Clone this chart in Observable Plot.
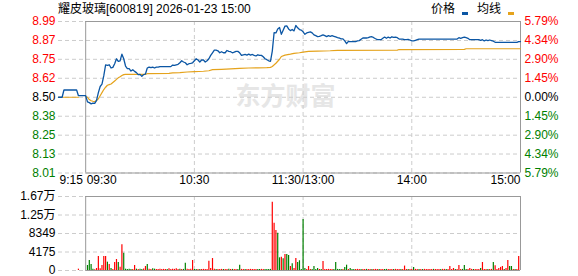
<!DOCTYPE html>
<html><head><meta charset="utf-8">
<script src="https://cdn.jsdelivr.net/npm/d3@7"></script>
<script src="https://cdn.jsdelivr.net/npm/@observablehq/plot@0.6"></script>
<style>
body{margin:0;background:#fff;}
#wrap{position:relative;width:578px;height:276px;overflow:hidden;font-family:"Liberation Sans",Arial,"Noto Sans CJK SC",sans-serif;}
#price,#vol{position:absolute;left:0;}
#price{top:0}
#vol{top:190px}
.t{position:absolute;font-size:12px;color:#000;white-space:nowrap;line-height:1;}
.dash{position:absolute;width:6px;height:3px;}
</style></head><body>
<div id="wrap">
 <div id="price"></div><div id="vol"></div>
 <div class="t" style="left:58px;top:3px">耀皮玻璃[600819] 2026-01-23 15:00</div>
 <div class="t" style="left:431px;top:3px">价格</div>
 <div class="dash" style="left:462px;top:12px;background:#0b56a4"></div>
 <div class="t" style="left:477px;top:3px">均线</div>
 <div class="dash" style="left:508px;top:12px;background:#e5a31c"></div>
</div>
<script>
// ---- data ----
const prevClose = 8.50;
const pctLevels = [5.79, 4.34, 2.90, 1.45, 0, -1.45, -2.90, -4.34, -5.79];
const priceLabels = ["8.99","8.87","8.75","8.62","8.50","8.38","8.25","8.13","8.01"];
const pctLabels = ["5.79%","4.34%","2.90%","1.45%","0.00%","1.45%","2.90%","4.34%","5.79%"];
const timeTicks = [-15, 0, 60, 120, 180, 240];
const timeLabels = ["9:15","09:30","10:30","11:30/13:00","14:00","15:00"];
const timeGrid = [60, 120, 180];

// price line (minutes from 9:30, trading time)
const priceMin = [-15,-13,-12,-5,-4,0,1,2,3,4,5,6,7,8,9,10,11,12,13,14,15,16,17,18,19,20,21,22,23,24,25,26,27,28,29,30,31,32,33,34,35,36,37,38,39,40,41,47,48,49,50,51,52,53,54,55,56,57,58,59,60,61,62,63,64,65,66,67,68,69,70,71,72,73,74,75,76,77,78,79,80,81,82,83,84,85,86,87,88,89,90,91,92,93,94,95,96,97,98,99,100,101,102,103,104,105,106,107,108,109,110,111,112,113,114,115,116,117,118,119,120,121,122,123,124,125,126,127,128,129,130,131,132,133,134,135,136,137,138,139,140,141,142,143,144,145,146,149,150,151,152,153,154,155,156,157,158,159,160,161,162,163,164,165,166,167,168,169,170,171,172,173,174,175,176,177,178,179,180,181,182,183,184,205,206,207,208,209,210,211,212,217,218,219,220,221,222,223,224,225,226,238,239,240];
const priceVal = [8.50,8.50,8.547,8.547,8.51,8.51,8.47,8.465,8.457,8.462,8.46,8.48,8.53,8.57,8.585,8.64,8.71,8.707,8.711,8.69,8.694,8.718,8.75,8.733,8.737,8.78,8.75,8.703,8.686,8.686,8.67,8.679,8.668,8.66,8.647,8.649,8.636,8.647,8.651,8.69,8.696,8.692,8.696,8.69,8.696,8.696,8.699,8.699,8.709,8.707,8.711,8.714,8.724,8.737,8.729,8.724,8.711,8.718,8.72,8.724,8.737,8.75,8.742,8.729,8.742,8.742,8.729,8.737,8.75,8.772,8.789,8.806,8.806,8.802,8.789,8.796,8.789,8.789,8.804,8.798,8.796,8.789,8.793,8.798,8.798,8.789,8.772,8.776,8.778,8.774,8.78,8.774,8.778,8.772,8.768,8.776,8.772,8.772,8.763,8.75,8.744,8.737,8.733,8.80,8.92,8.918,8.944,8.953,8.909,8.936,8.962,8.964,8.944,8.933,8.94,8.931,8.966,8.951,8.94,8.936,8.925,8.909,8.918,8.922,8.925,8.918,8.905,8.90,8.894,8.896,8.90,8.905,8.90,8.894,8.90,8.896,8.90,8.896,8.892,8.887,8.885,8.879,8.879,8.866,8.848,8.863,8.861,8.861,8.866,8.868,8.877,8.885,8.885,8.885,8.887,8.892,8.893,8.887,8.88,8.874,8.874,8.874,8.883,8.891,8.883,8.891,8.885,8.893,8.889,8.891,8.887,8.878,8.878,8.878,8.874,8.874,8.876,8.872,8.866,8.866,8.87,8.874,8.878,8.878,8.887,8.883,8.887,8.891,8.887,8.883,8.874,8.874,8.87,8.874,8.866,8.872,8.868,8.872,8.868,8.864,8.857,8.857,8.862,8.862];

// average price line
const avgPreMin = [-15, -4];
const avgPreVal = [8.50, 8.50];
const avgMin = [0,1,2,3,4,5,6,7,8,9,10,11,12,13,14,15,16,17,18,19,20,21,22,33,34,46,48,52,56,60,65,68,70,75,80,85,90,95,100,102,103,105,107,108,110,113,115,118,120,123,128,135,139,172,173,209,210,240];
const avgVal = [8.505,8.50,8.485,8.477,8.474,8.472,8.478,8.49,8.51,8.53,8.55,8.565,8.578,8.582,8.586,8.596,8.606,8.616,8.626,8.633,8.641,8.647,8.649,8.649,8.653,8.655,8.658,8.66,8.664,8.667,8.669,8.672,8.679,8.681,8.684,8.687,8.69,8.691,8.692,8.694,8.70,8.721,8.747,8.765,8.774,8.78,8.785,8.789,8.793,8.798,8.80,8.802,8.805,8.806,8.81,8.811,8.815,8.815];

// volume
const volTickVals = [0, 4175, 8349, 12525, 16700];
const volTickLabels = ["0","4175","8349","1.25万","1.67万"];
const preVolMin = [-4];
const preVol = [300];
const preVolDir = "r";
const volumes = [
 0,1130,2260,1350,300,150,450,3160,400,1130,
 3160,3160,1880,1350,450,200,1800,2480,1800,750,
 5800,3910,300,250,300,250,250,1130,300,250,
 300,250,350,900,1350,300,250,400,300,250,
 250,300,250,250,250,250,400,250,300,250,
 400,250,300,250,250,1650,300,250,300,2260,
 250,250,250,250,250,250,250,250,2100,450,
 2700,300,250,250,250,250,250,250,250,300,
 250,250,250,250,250,1200,250,250,250,250,
 250,250,250,250,250,250,250,250,250,250,
 250,250,250,15420,10680,9030,8420,2860,3000,2640,
 3600,3600,3380,900,1500,450,2700,1800,2200,250,
 11510,450,250,900,200,250,900,250,450,250,
 250,2030,250,250,250,250,250,250,1800,250,
 250,250,250,700,1200,250,450,250,250,250,
 250,250,250,250,250,250,250,250,250,250,
 250,250,250,250,250,250,250,250,250,250,
 250,250,250,250,250,250,1000,250,250,250,
 250,700,250,250,250,250,250,250,250,250,
 250,250,250,250,250,250,250,250,250,250,
 250,900,250,450,250,250,1130,250,250,1130,
 250,250,450,250,250,250,250,250,450,1800,
 250,250,250,250,250,1800,1050,250,450,700,
 900,250,450,2260,900,900,250,250,250,3160,
 0];
const volDir = "rggggrrrrr"+"rrgrgrrrgr"+"rgggggrrgr"+"ggrrgrrggr"+"rrrrrgrrrr"+"rrgrggrrrr"+"ggrgrrrrrr"+"rrgrrrgrrg"+"rgrrggrrgr"+"rrrrrggrrg"+"gggrrrggrg"+"rggrgrrggg"+"ggrrrggggr"+"grrrrrrggg"+"ggrggrgggr"+"rrgrrgrrgr"+"rrgrrggrrr"+"grrrgrrrgr"+"rgrrgrgrrr"+"rrgrrrgrrg"+"rrrrgrrrgg"+"grrrgrrrgr"+"rrgrrgrrrr"+"rgrrggrgrr"+"r";

// ---- styles ----
const RED = "#ff0000", GREEN = "#008000", BLACK = "#000000";
const BLUE = "#0b56a4", ORANGE = "#e5a31c";
const GRID = "#cccccc", FRAME = "#999999";
const FONT = "Liberation Sans, Arial, Noto Sans CJK SC, sans-serif";

const levels = pctLevels.map(p => prevClose * (1 + p / 100));
const levelColor = pctLevels.map(p => p > 0 ? RED : p < 0 ? GREEN : BLACK);
const priceData = priceMin.map((m, i) => ({m, p: priceVal[i]}));
const avgPre = avgPreMin.map((m, i) => ({m, p: avgPreVal[i]}));
const avgData = avgMin.map((m, i) => ({m, p: avgVal[i]}));
const volData = volumes.map((v, i) => ({m: i, v, c: volDir[i] === "r" ? RED : GREEN}))
  .concat(preVolMin.map((m, i) => ({m, v: preVol[i], c: preVolDir[i] === "r" ? RED : GREEN})));
const dom = [prevClose * (1 - 0.0579), prevClose * (1 + 0.0579)];

const priceChart = Plot.plot({
  width: 578, height: 190,
  marginTop: 21, marginBottom: 17.5, marginLeft: 58, marginRight: 58,
  style: {fontFamily: FONT, fontSize: "12px", background: "white"},
  x: {domain: [-15, 240], axis: null},
  y: {domain: dom, axis: null},
  color: {type: "identity"},
  marks: [
    Plot.text(["东方财富"], {frameAnchor: "middle", dx: -4, fontSize: 25, fontWeight: "bold", fill: "#e6e6e6", fontFamily: "Noto Sans CJK SC"}),
    Plot.ruleY(levels, {y: d => d, x1: -15, x2: 240, stroke: GRID, strokeDasharray: "4,3"}),
    Plot.ruleX(timeGrid, {x: d => d, stroke: GRID, strokeDasharray: "4,3"}),
    Plot.ruleY([levels[0], levels[levels.length - 1]], {y: d => d, x1: 0, x2: 240, stroke: FRAME}),
    Plot.ruleX([0, 240], {x: d => d, stroke: FRAME}),
    Plot.line(avgPre, {x: "m", y: "p", stroke: ORANGE, strokeWidth: 1.2}),
    Plot.line(avgData, {x: "m", y: "p", stroke: ORANGE, strokeWidth: 1.2}),
    Plot.line(priceData, {x: "m", y: "p", stroke: BLUE, strokeWidth: 1.3}),
    Plot.text(levels, {x: -15, y: d => d, text: (d, i) => priceLabels[i], fill: (d, i) => levelColor[i], textAnchor: "end", dx: -3, fontSize: 12}),
    Plot.text(levels, {x: 240, y: d => d, text: (d, i) => pctLabels[i], fill: (d, i) => levelColor[i], textAnchor: "start", dx: 4, fontSize: 12}),
    Plot.text(timeTicks.filter((d, i) => i < 2), {x: d => d, text: (d, i) => timeLabels[i], frameAnchor: "bottom", dy: 10.7, dx: 1, textAnchor: "start", fill: BLACK, fontSize: 12}),
    Plot.text(timeTicks.filter((d, i) => i >= 2 && i < timeTicks.length - 1), {x: d => d, text: (d, i) => timeLabels[i + 2], frameAnchor: "bottom", dy: 10.7, textAnchor: "middle", fill: BLACK, fontSize: 12}),
    Plot.text(timeTicks.slice(-1), {x: d => d, text: () => timeLabels[timeLabels.length - 1], frameAnchor: "bottom", dy: 10.7, textAnchor: "end", fill: BLACK, fontSize: 12})
  ]
});
document.getElementById("price").appendChild(priceChart);

const volChart = Plot.plot({
  width: 578, height: 86,
  marginTop: 6, marginBottom: 6, marginLeft: 58, marginRight: 58,
  style: {fontFamily: FONT, fontSize: "12px", background: "white"},
  x: {domain: [-15, 240], axis: null},
  y: {domain: [0, 16700], axis: null},
  color: {type: "identity"},
  marks: [
    Plot.ruleY(volTickVals, {y: d => d, x1: -15, x2: 240, stroke: GRID, strokeDasharray: "4,3"}),
    Plot.ruleX(timeGrid, {x: d => d, stroke: GRID, strokeDasharray: "4,3"}),
    Plot.ruleY([0, 16700], {y: d => d, x1: 0, x2: 240, stroke: FRAME}),
    Plot.ruleX([0, 240], {x: d => d, stroke: FRAME}),
    Plot.ruleX(volData.filter(d => d.v > 0), {x: "m", y1: 0, y2: "v", stroke: "c", strokeWidth: 1.2}),
    Plot.text(volTickVals, {x: -15, y: d => d, text: (d, i) => volTickLabels[i], textAnchor: "end", dx: -3, fill: BLACK, fontSize: 12})
  ]
});
document.getElementById("vol").appendChild(volChart);
</script>
</body></html>
